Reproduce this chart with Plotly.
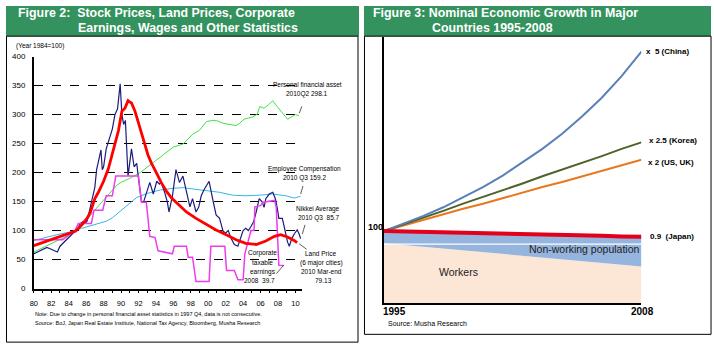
import plotly.graph_objects as go

W, H = 714, 352
def fx(p): return p / W
def fy(p): return 1 - p / H

# ---------------- Figure 2 data (index, 1984 = 100) ----------------
nikkei_year = [1980.0, 1980.4, 1980.8, 1981.2, 1981.5, 1981.8, 1982.1, 1982.4, 1982.7, 1983.0,
               1983.4, 1983.8, 1984.2, 1984.6, 1985.0, 1985.3, 1985.6, 1985.9, 1986.1, 1986.3,
               1986.5, 1986.8, 1987.0, 1987.2, 1987.5, 1987.7, 1987.85, 1988.0, 1988.3, 1988.5,
               1988.7, 1989.0, 1989.3, 1989.6, 1989.9, 1990.1, 1990.3, 1990.5, 1990.8, 1991.0,
               1991.2, 1991.5, 1991.8, 1992.0, 1992.35, 1992.6, 1992.9, 1993.3, 1993.7, 1994.1,
               1994.4, 1994.6, 1995.0, 1995.3, 1995.5, 1995.9, 1996.3, 1996.7, 1997.1, 1997.5,
               1997.9, 1998.2, 1998.6, 1998.9, 1999.2, 1999.5, 1999.8, 2000.1, 2000.5, 2000.9,
               2001.3, 2001.5, 2001.7, 2002.0, 2002.3, 2002.6, 2003.0, 2003.4, 2003.75, 2004.0,
               2004.3, 2004.6, 2004.9, 2005.2, 2005.5, 2005.85, 2006.2, 2006.4, 2006.6, 2007.0,
               2007.4, 2007.7, 2007.9, 2008.1, 2008.5, 2008.9, 2009.1, 2009.3, 2009.6, 2009.9,
               2010.2, 2010.4, 2010.6]
nikkei_val = [60, 63, 65, 68, 71, 69, 67, 65, 63, 73,
              79, 85, 92, 97, 101, 112, 115, 113, 116, 130,
              143, 162, 175, 205, 225, 239, 205, 210, 241, 250,
              258, 275, 300, 310, 353, 300, 283, 290, 194, 220,
              241, 210, 216, 190, 149, 150, 166, 183, 163, 185,
              180, 183, 166, 150, 132, 160, 205, 183, 194, 169,
              141, 155, 132, 140, 160, 170, 177, 185, 155, 127,
              121, 110, 99, 96, 100, 87, 76, 73, 90, 100,
              104, 100, 107, 115, 132, 155, 149, 140, 155, 163,
              166, 155, 140, 121, 121, 93, 80, 73, 87, 95,
              101, 95, 86]

land_year = [1980.0, 1981.0, 1982.0, 1983.0, 1984.0, 1984.8, 1985.5, 1986.1, 1986.5, 1986.8,
             1987.0, 1987.4, 1987.7, 1988.0, 1988.55, 1989.1, 1989.4, 1989.7, 1990.1, 1990.45,
             1990.8, 1991.0, 1991.2, 1991.6, 1992.0, 1992.35, 1992.7, 1993.1, 1993.5, 1993.9,
             1994.25, 1994.6, 1995.2, 1995.8, 1996.7, 1997.5, 1998.6, 1999.8, 2000.9, 2002.0,
             2003.2, 2004.3, 2005.5, 2006.6, 2007.6, 2008.3, 2009.1, 2009.85, 2010.2]
land_val = [74, 79, 84, 89, 94, 99, 110, 121, 132, 146,
            155, 166, 175, 185, 207, 241, 255, 272, 306, 311,
            324, 322, 320, 306, 286, 267, 247, 230, 216, 205,
            194, 183, 168, 156, 143, 132, 121, 110, 101, 93,
            84, 78, 76, 82, 90, 93, 89, 83, 79.13]

asset_year = [1980.0, 1981.0, 1982.0, 1983.0, 1984.0, 1984.8, 1985.5, 1986.8, 1988.0, 1989.5,
              1990.1, 1991.0, 1992.2, 1993.3, 1994.45, 1995.6, 1996.0, 1997.1, 1997.9, 1998.2,
              1999.0, 1999.8, 2000.5, 2001.1, 2001.7, 2002.4, 2003.2, 2003.6, 2004.1, 2005.1,
              2005.65, 2005.9, 2006.4, 2007.0, 2007.4, 2007.9, 2008.5, 2009.1, 2009.45, 2010.0,
              2010.4]
asset_val = [63, 70, 78, 85, 92, 99, 107, 132, 152, 178,
             184, 190, 200, 213, 225, 239, 244, 249, 261, 266,
             273, 288, 290, 289, 285, 283, 281, 285, 292, 296,
             301, 314, 311, 318, 324, 314, 303, 292, 295, 300,
             298.1]

comp_year = [1980.0, 1981.0, 1982.0, 1983.0, 1984.0, 1984.8, 1985.5, 1986.5, 1987.5, 1988.3,
             1989.0, 1990.0, 1990.8, 1991.8, 1993.0, 1994.5, 1996.0, 1997.1, 1998.6, 1999.8,
             2001.3, 2002.8, 2004.3, 2005.85, 2007.4, 2008.9, 2009.85, 2010.6]
comp_val = [83, 87, 91, 94, 97, 100, 104, 108, 112, 116,
            122, 134, 145, 157, 164, 170, 173, 174, 171, 169,
            166, 161, 160, 161, 163, 160, 156, 159.2]

corp_year = [1980.0, 1983.3, 1984.0, 1984.75, 1985.1, 1986.6, 1986.9, 1987.9, 1988.3, 1989.0,
             1989.4, 1992.0, 1992.35, 1992.9, 1993.3, 1993.9, 1994.25, 1995.9, 1996.1, 1997.5,
             1997.7, 1998.2, 1998.6, 2000.1, 2000.3, 2001.9, 2002.1, 2003.0, 2003.4, 2004.0,
             2004.2, 2004.9, 2005.25, 2005.35, 2006.0, 2006.3, 2007.6, 2007.8, 2008.1, 2008.7]
corp_val = [84, 84, 92, 101, 112, 112, 135, 135, 160, 160,
            194, 194, 149, 149, 90, 88, 65, 60, 73, 73,
            54, 54, 12, 12, 73, 73, 31, 31, 15, 15,
            60, 100, 100, 141, 143, 149, 152, 140, 40, 39.7]

y_ticks = [0, 50, 100, 150, 200, 250, 300, 350, 400]
x_years = list(range(1980, 2011))
x_labels = ["80", "82", "84", "86", "88", "90", "92", "94", "96", "98", "00", "02", "04", "06", "08", "10"]

# ---------------- Figure 3 data (1995 = 100) ----------------
years3 = list(range(1995, 2009))
china = [100, 110, 121, 133, 147, 161, 177, 195, 214, 235, 259, 285, 315, 349]
korea = [100, 109, 119, 128, 138, 147, 157, 166, 176, 185, 195, 204, 214, 223]
usuk = [100, 108, 115, 123, 131, 138, 146, 153, 161, 168, 176, 184, 191, 199]
japan = [100, 99.5, 99, 98.5, 97.5, 97, 96.5, 96, 95.5, 95, 94, 93.5, 92.5, 92]
workers = [83, 80.5, 78, 75.5, 73, 71, 68.5, 66, 63.5, 61, 58.5, 56, 53.5, 51]

FN = "Liberation Sans, Arial, sans-serif"
GREEN_HDR = "#33925E"

fig = go.Figure()

# Figure 2 traces
fig.add_trace(go.Scatter(x=comp_year, y=comp_val, mode="lines",
                         line=dict(color="#35B6E6", width=1), xaxis="x", yaxis="y"))
fig.add_trace(go.Scatter(x=asset_year, y=asset_val, mode="lines",
                         line=dict(color="#44E044", width=1), xaxis="x", yaxis="y"))
fig.add_trace(go.Scatter(x=nikkei_year, y=nikkei_val, mode="lines",
                         line=dict(color="#1C1C7C", width=1.2), xaxis="x", yaxis="y"))
fig.add_trace(go.Scatter(x=corp_year, y=corp_val, mode="lines",
                         line=dict(color="#EE3CEE", width=1.5), xaxis="x", yaxis="y"))
fig.add_trace(go.Scatter(x=land_year, y=land_val, mode="lines",
                         line=dict(color="#FF0000", width=2.8), xaxis="x", yaxis="y"))

# Figure 3 traces
fig.add_trace(go.Scatter(x=years3, y=workers, mode="lines", fill="tozeroy",
                         fillcolor="#FCE6D6", line=dict(width=0), xaxis="x2", yaxis="y2"))
fig.add_trace(go.Scatter(x=years3, y=japan, mode="lines", fill="tonexty",
                         fillcolor="#95B5DE", line=dict(width=0), xaxis="x2", yaxis="y2"))
fig.add_trace(go.Scatter(x=years3, y=usuk, mode="lines",
                         line=dict(color="#E8781E", width=2), xaxis="x2", yaxis="y2"))
fig.add_trace(go.Scatter(x=years3, y=korea, mode="lines",
                         line=dict(color="#4F6228", width=2), xaxis="x2", yaxis="y2"))
fig.add_trace(go.Scatter(x=years3, y=china, mode="lines",
                         line=dict(color="#5A80B8", width=2), xaxis="x2", yaxis="y2"))
fig.add_trace(go.Scatter(x=years3, y=japan, mode="lines",
                         line=dict(color="#E2001A", width=4), xaxis="x2", yaxis="y2"))

shapes = [
    # headers
    dict(type="rect", xref="paper", yref="paper", x0=fx(2), x1=fx(357), y0=fy(33), y1=fy(2),
         fillcolor=GREEN_HDR, line=dict(width=0)),
    dict(type="rect", xref="paper", yref="paper", x0=fx(362), x1=fx(711), y0=fy(33), y1=fy(2),
         fillcolor=GREEN_HDR, line=dict(width=0)),
    # panel borders
    dict(type="rect", xref="paper", yref="paper", x0=fx(2.5), x1=fx(356), y0=fy(347), y1=fy(33),
         line=dict(color="black", width=1)),
    dict(type="rect", xref="paper", yref="paper", x0=fx(362.5), x1=fx(711), y0=fy(339), y1=fy(33),
         line=dict(color="black", width=1)),
    # white band line across the population area
    dict(type="line", xref="x2", yref="y2", x0=1995, x1=2008, y0=82, y1=82,
         line=dict(color="white", width=1.2)),
]

ann = []
def txt(x, y, s, size, bold=False, color="black", anchor="center", font=FN):
    ann.append(dict(xref="paper", yref="paper", x=fx(x), y=fy(y), text=("<b>%s</b>" % s) if bold else s,
                    showarrow=False, xanchor=anchor, yanchor="middle",
                    font=dict(family=font, size=size, color=color)))

# headers text
txt(12, 9.5, "Figure 2:  Stock Prices, Land Prices, Corporate", 12.4, True, "white", "left")
txt(72, 24.5, "Earnings, Wages and Other Statistics", 12.4, True, "white", "left")
txt(369, 9.5, "Figure 3: Nominal Economic Growth in Major", 12.4, True, "white", "left")
txt(428, 24.5, "Countries 1995-2008", 12.4, True, "white", "left")

# Figure 2 texts
txt(10, 43.5, "(Year 1984=100)", 6.5, anchor="left")
txt(305, 83, "Personal financial asset", 6.5)
txt(305, 92.7, "2010Q2 298.1", 6.5)
txt(302.5, 169.3, "Employee Compensation", 6.5)
txt(302.5, 178.7, "2010 Q3 159.2", 6.5)
txt(316, 210.7, "Nikkei Average", 6.5)
txt(317, 220, "2010 Q3  85.7", 6.5)
txt(318, 256, "Land Price", 6.5)
txt(319, 265.5, "(6 major cities)", 6.5)
txt(319.5, 275, "2010 Mar-end", 6.5)
txt(321, 284, "79.13", 6.5)
txt(259.5, 256, "Corporate", 6.5)
txt(259.5, 265.5, "taxable", 6.5)
txt(260, 275, "earnings", 6.5)
txt(257, 284, "2008  39.7", 6.5)
txt(29, 318.3, "Note: Due to change in personal financial asset statistics in 1997 Q4, data is not consecutive.", 5.5, anchor="left")
txt(29, 327.3, "Source: BoJ, Japan Real Estate Institute, National Tax Agency, Bloomberg, Musha Research", 5.5, anchor="left")

# pointer lines
for (x0, y0, x1, y1) in [(299.5, 105, 297, 112), (300.7, 186.7, 298.3, 195), (302.7, 226.7, 300, 236),
                         (296.7, 246, 304.3, 251.7), (274, 276.7, 281, 268.3)]:
    shapes.append(dict(type="line", xref="paper", yref="paper", x0=fx(x0), y0=fy(y0), x1=fx(x1), y1=fy(y1),
                       line=dict(color="#333333", width=0.8)))

# Figure 3 texts
txt(644, 49, "x  5 (China)", 8, True, anchor="left")
txt(647, 140.5, "x 2.5 (Korea)", 8, True, anchor="left")
txt(646, 162.5, "x 2 (US, UK)", 8, True, anchor="left")
txt(648, 239, "0.9  (Japan)", 8, True, anchor="left")
txt(373.5, 229, "100", 9, True)
txt(583, 251, "Non-working population", 10.5, color="#222222")
txt(457, 275, "Workers", 10.5, color="#222222")
txt(393, 316, "1995", 10, True)
txt(642, 316, "2008", 10, True)
txt(384, 328, "Source: Musha Research", 7, anchor="left")

fig.update_layout(
    width=W, height=H, margin=dict(l=0, r=0, t=0, b=0),
    paper_bgcolor="white", plot_bgcolor="rgba(0,0,0,0)", showlegend=False,
    shapes=shapes, annotations=ann,
    xaxis=dict(domain=[fx(30), fx(300)], range=[1980, 2010.79], anchor="y",
               tickvals=x_years,
               ticktext=[x_labels[(y - 1980) // 2] if (y - 1980) % 2 == 0 else "" for y in x_years],
               ticks="outside", ticklen=3, tickcolor="black", tickwidth=1,
               showline=True, linecolor="black", linewidth=1.5, showgrid=False, zeroline=False,
               ticklabelstandoff=4,
               tickfont=dict(family=FN, size=7.5, color="black")),
    yaxis=dict(domain=[fy(292), fy(54)], range=[0, 400], anchor="x",
               tickvals=y_ticks, ticktext=[str(v) for v in y_ticks], ticks="",
               showline=True, linecolor="black", linewidth=1.5,
               showgrid=True, gridcolor="black", gridwidth=1, griddash="dash", zeroline=False,
               ticklabelstandoff=5,
               tickfont=dict(family=FN, size=8, color="black")),
    xaxis2=dict(domain=[fx(382), fx(641)], range=[1995, 2008], anchor="y2",
                showticklabels=False, ticks="", showline=True, linecolor="black", linewidth=1.5,
                showgrid=False, zeroline=False),
    yaxis2=dict(domain=[fy(307), fy(34)], range=[0, 369], anchor="x2",
                showticklabels=False, ticks="", showline=True, linecolor="black", linewidth=1.5,
                showgrid=False, zeroline=False),
)

fig.write_html("out.html")
